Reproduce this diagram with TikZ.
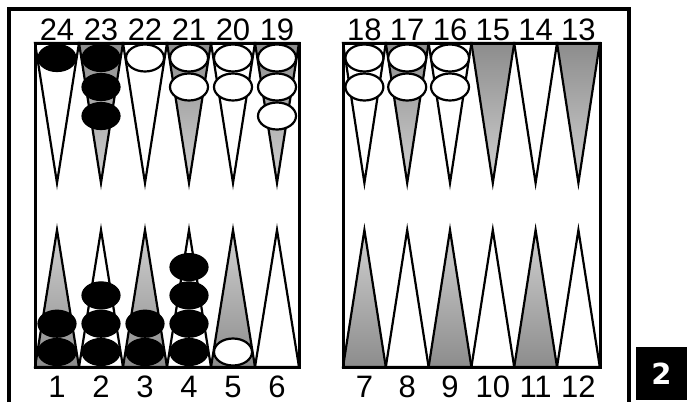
\documentclass[tikz,border=0pt]{standalone}
\usepackage{fontspec}
\setmainfont{Liberation Sans}
\newfontfamily\heavyfont{DejaVu Sans}
\usetikzlibrary{positioning}
\definecolor{pointlight}{gray}{0.82}
\definecolor{pointdark}{gray}{0.55}
\tikzset{
  pointline/.style={line width=2.2pt, line join=miter},
  boardline/.style={line width=3pt},
  blackman/.style={fill=black, draw=black, line width=1.2pt},
  whiteman/.style={fill=white, draw=black, line width=2.2pt},
  numlabel/.style={font=\fontsize{31}{31}\selectfont, inner sep=0pt, anchor=base},
}

\begin{document}
\begin{tikzpicture}[x=1pt, y=-1pt]
  \useasboundingbox (0,0) rectangle (687,402);

  % outer frame (cut at the bottom)
  \draw[line width=3.8pt] (9,402) -- (9,9) -- (629,9) -- (629,402);

  % points: left board x0=35 w=44, right board x0=343 w=42.8
  \foreach \bx/\bw/\tp/\bp [count=\b] in {35/44/24/1, 343/42.8/18/7} {
    \foreach \i in {0,...,5} {
      \pgfmathsetmacro{\xl}{\bx+\i*\bw}
      \pgfmathsetmacro{\xr}{\bx+(\i+1)*\bw}
      \pgfmathsetmacro{\xc}{\bx+(\i+0.5)*\bw}
      \pgfmathtruncatemacro{\tn}{\tp-\i}
      \pgfmathtruncatemacro{\bn}{\bp+\i}
      \ifodd\i
        \draw[pointline, top color=pointdark, bottom color=pointlight] (\xl,43) -- (\xr,43) -- (\xc,183) -- cycle;
        \draw[pointline, fill=white] (\xl,367) -- (\xr,367) -- (\xc,230) -- cycle;
      \else
        \draw[pointline, fill=white] (\xl,43) -- (\xr,43) -- (\xc,183) -- cycle;
        \draw[pointline, top color=pointlight, bottom color=pointdark] (\xl,367) -- (\xr,367) -- (\xc,230) -- cycle;
      \fi
      \node[numlabel] (lab\tn) at (\xc,40) {\tn};
      \node[numlabel] (lab\bn) at (\xc,397) {\bn};
    }
  }
  \draw[boardline] (35,43) rectangle (299,367);
  \draw[boardline] (343,43) rectangle (600,367);

  % checkers: point x / count / style, top stacks
  \foreach \x/\n/\s in {57/1/blackman, 101/3/blackman, 145/1/whiteman,
                        189/2/whiteman, 233/2/whiteman, 277/3/whiteman,
                        364.4/2/whiteman, 407.2/2/whiteman, 450/2/whiteman} {
    \foreach \k in {1,...,\n}
      \draw[\s] (\x,{58+(\k-1)*29}) ellipse (19 and 13.5);
  }
  % bottom stacks
  \foreach \x/\n/\s in {57/2/blackman, 101/3/blackman, 145/2/blackman,
                        189/4/blackman, 233/1/whiteman} {
    \foreach \k in {1,...,\n}
      \draw[\s] (\x,{352-(\k-1)*28.3}) ellipse (19 and 13.5);
  }

  % page number box
  \node[fill=black, text=white, minimum width=51, minimum height=53, inner sep=0pt,
        font=\heavyfont\bfseries\fontsize{29}{29}\selectfont] (pagenum) at (661.5,373.5) {2};
\end{tikzpicture}
\end{document}
